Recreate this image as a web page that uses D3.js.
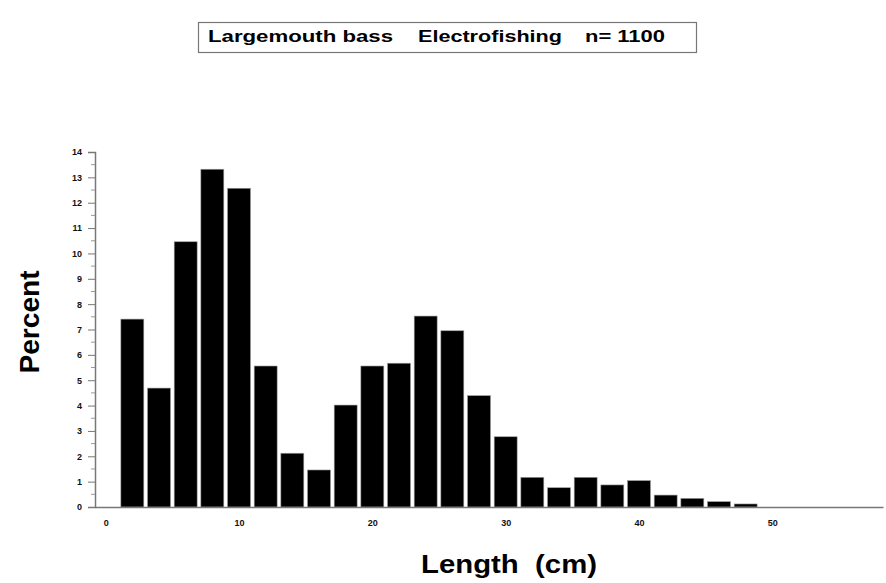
<!DOCTYPE html>
<html>
<head>
<meta charset="utf-8">
<script src="https://cdn.jsdelivr.net/npm/d3@7"></script>
<style>
  body { margin: 0; background: #fff; }
  svg { display: block; font-family: "Liberation Sans", Arial, sans-serif; }
</style>
</head>
<body>
<svg width="886" height="583"></svg>
<script>
// données
const lengthBins = [2, 4, 6, 8, 10, 12, 14, 16, 18, 20, 22, 24, 26, 28, 30, 32, 34, 36, 38, 40, 42, 44, 46, 48];
const percents = [7.41, 4.69, 10.46, 13.32, 12.57, 5.56, 2.12, 1.46, 4.02, 5.56, 5.67, 7.53, 6.95, 4.39, 2.77, 1.17, 0.76, 1.17, 0.87, 1.04, 0.47, 0.34, 0.21, 0.12];
const xTicks = [0, 10, 20, 30, 40, 50];
const yTicks = d3.range(0, 15);
const titleParts = ["Largemouth bass", "Electrofishing", "n= 1100"];

const svg = d3.select("svg");

const x = d3.scaleLinear().domain([-0.8, 58.3]).range([95, 883]);
const y = d3.scaleLinear().domain([0, 14]).range([507, 152]);
const binWidth = 2;

// titre dans un cadre
svg.append("rect")
    .attr("x", 198.5).attr("y", 22.5)
    .attr("width", 498).attr("height", 30)
    .attr("fill", "none")
    .attr("stroke", "#777")
    .attr("stroke-width", 1.2);

const titlePos = [[208, 185], [418, 144], [585, 80]];
svg.selectAll(".title-part")
    .data(titleParts)
    .enter().append("text")
    .attr("class", "title-part")
    .attr("x", (d, i) => titlePos[i][0])
    .attr("y", 42)
    .attr("textLength", (d, i) => titlePos[i][1])
    .attr("lengthAdjust", "spacingAndGlyphs")
    .style("font-size", "17px")
    .style("font-weight", "bold")
    .text(d => d);

// barres
svg.selectAll(".bar")
    .data(lengthBins)
    .enter().append("rect")
    .attr("class", "bar")
    .attr("x", d => x(d - binWidth * 0.43))
    .attr("width", x(binWidth * 0.86) - x(0))
    .attr("y", (d, i) => y(percents[i]))
    .attr("height", (d, i) => y(0) - y(percents[i]))
    .attr("fill", "#000")
    .attr("stroke", "#999")
    .attr("stroke-width", 0.6);

// axe Y
const yAxis = svg.append("g")
    .attr("transform", `translate(${x.range()[0]},0)`)
    .call(d3.axisLeft(y).tickValues(yTicks).tickSize(7).tickPadding(6).tickFormat(d3.format("d")));
yAxis.select(".domain").attr("stroke", "#777").attr("stroke-width", 1.5);
yAxis.selectAll(".tick line").attr("stroke", "#777");
yAxis.selectAll(".tick text")
    .style("font-size", "9px")
    .style("font-weight", "bold")
    .attr("fill", "#111");

// petites graduations
svg.append("g")
    .selectAll("line")
    .data(d3.range(0.5, 14, 1))
    .enter().append("line")
    .attr("x1", x.range()[0] - 4).attr("x2", x.range()[0])
    .attr("y1", d => y(d)).attr("y2", d => y(d))
    .attr("stroke", "#999");

// axe X
const xAxis = svg.append("g")
    .attr("transform", `translate(0,${y(0)})`)
    .call(d3.axisBottom(x).tickValues(xTicks).tickSize(0).tickPadding(13).tickFormat(d3.format("d")));
xAxis.select(".domain").attr("stroke", "#777").attr("stroke-width", 1.5);
xAxis.selectAll(".tick text")
    .style("font-size", "9px")
    .style("font-weight", "bold")
    .attr("fill", "#111");

// titres des axes
svg.append("text")
    .attr("x", 509).attr("y", 573)
    .attr("text-anchor", "middle")
    .attr("textLength", 176)
    .attr("lengthAdjust", "spacingAndGlyphs")
    .style("font-size", "26px")
    .style("font-weight", "bold")
    .style("white-space", "pre")
    .text("Length  (cm)");

svg.append("text")
    .attr("transform", "translate(39,322) rotate(-90)")
    .attr("text-anchor", "middle")
    .attr("textLength", 103)
    .attr("lengthAdjust", "spacingAndGlyphs")
    .style("font-size", "27px")
    .style("font-weight", "bold")
    .text("Percent");
</script>
</body>
</html>
